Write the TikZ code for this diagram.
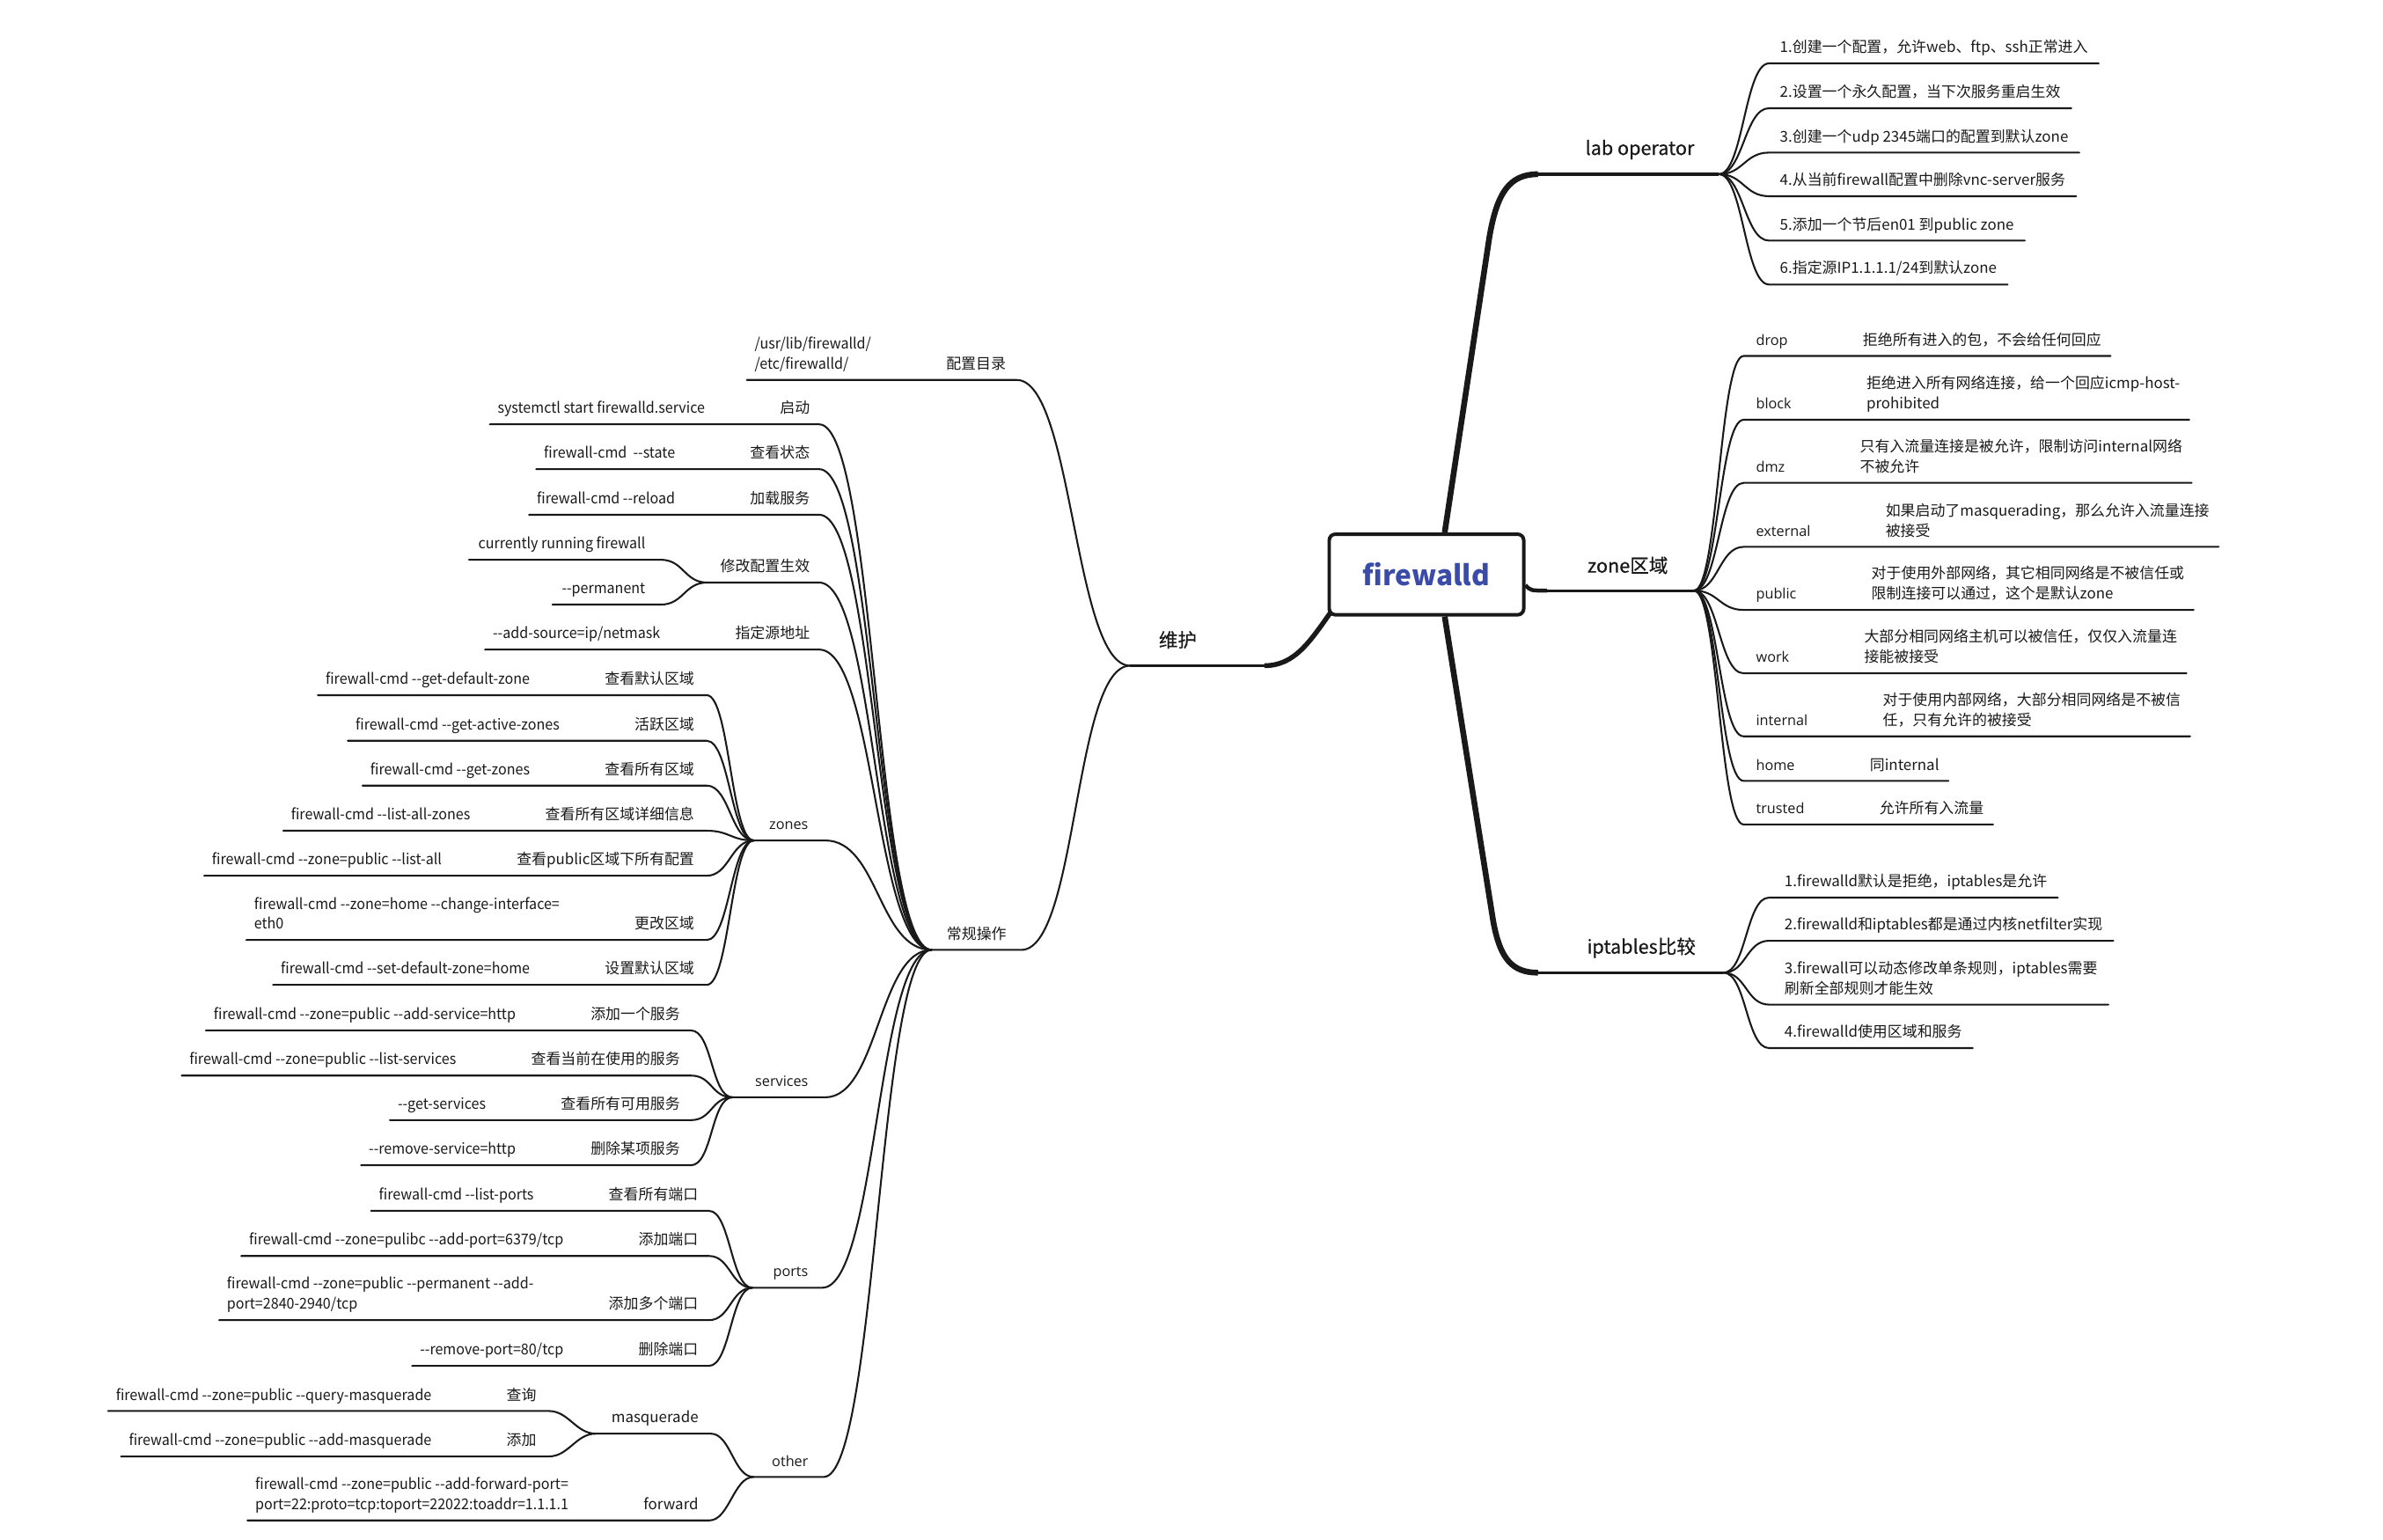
\documentclass[tikz,border=0pt]{standalone}
\usepackage{fontspec}
\setmainfont{Noto Sans CJK SC}[Ligatures=TeXOff]
\newfontfamily\opensans{Open Sans}[Ligatures=TeXOff]
\newfontfamily\cmdfont{Noto Sans CJK SC}[Ligatures=TeXOff, FakeStretch=0.95]
\newfontfamily\headfont{Noto Sans CJK SC}[Ligatures=TeXOff, FakeBold=0.5]
\usetikzlibrary{positioning,calc,backgrounds}
\definecolor{ink}{RGB}{25,25,25}
\definecolor{rootblue}{RGB}{58,75,168}
\tikzset{
  rootbox/.style={draw=ink, line width=2.3pt, rounded corners=4pt, fill=white,
    minimum width=128pt, minimum height=53pt, inner sep=0pt, text=rootblue,
    font=\bfseries\fontsize{18.3}{22}\selectfont},
  trunk/.style={draw=ink, line width=3.8pt},
  stem/.style={draw=ink, line width=1.9pt},
  twig/.style={draw=ink, line width=1.2pt, line cap=round},
  title/.style={font=\headfont\fontsize{12.5}{15}\selectfont, text=ink, inner sep=0pt},
  txt/.style={font=\fontsize{9.8}{13.2}\selectfont, text=ink, inner sep=0pt,
    align=left, execute at end node=\strut},
  cmd/.style={txt, font=\cmdfont\fontsize{9.8}{13.2}\selectfont},
  key/.style={txt, font=\opensans\fontsize{9.4}{13.2}\selectfont},
}

\begin{document}
\begin{tikzpicture}[x=1pt,y=-1pt]
\useasboundingbox (0,0) rectangle (1568,1013);

% centre
\node[rootbox] (root) at (938.6,378) {firewalld};

% junctions of the first level
\coordinate (labc) at (1012,114.6);
\coordinate (labj) at (1131,114.6);
\coordinate (zonec) at (1018,388.6);
\coordinate (zonej) at (1114.6,388.6);
\coordinate (iptc) at (1012,640);
\coordinate (iptj) at (1134,640);
\coordinate (whc) at (832,438);
\coordinate (whj) at (743.6,438);

% thick branches, behind the box
\begin{scope}[on background layer]
  \draw[trunk] ($(root.north)+(12,0)$) -- (980,156) .. controls (985,127) and (993,114.6) .. (labc);
  \draw[trunk, line width=2.6pt] ($(root.east)+(0,7)$) .. controls (1007,388.6) .. (zonec);
  \draw[trunk] ($(root.south)+(12,0)$) -- (982.5,606) .. controls (987,631) and (995,640) .. (iptc);
  \draw[trunk, line width=3.2pt] ($(root.south west)+(3,-4)$) .. controls (862,422) and (852,438) .. (whc);
\end{scope}
\draw[stem] ($(labc)+(-3,0)$) -- (labj);
\draw[stem] ($(zonec)+(-3,0)$) -- (zonej);
\draw[stem] ($(iptc)+(-3,0)$) -- (iptj);
\draw[stem] ($(whc)+(3,0)$) -- (whj);

\node[title] (lab) at (1079,98.4) {lab operator};
\node[title] (zone) at (1071,372) {zone区域};
\node[title] (ipt) at (1080,623.6) {iptables比较};
\node[title] (wh) at (775,421) {维护};

% ---------------- lab operator
\node[txt, anchor=south west] (lab1) at (1171,38.7) {1.创建一个配置，允许web、ftp、ssh正常进入};
\node[txt, anchor=south west] (lab2) at (1171,68.2) {2.设置一个永久配置，当下次服务重启生效};
\node[txt, anchor=south west] (lab3) at (1171,97.4) {3.创建一个udp 2345端口的配置到默认zone};
\node[txt, anchor=south west] (lab4) at (1171,126.1) {4.从当前firewall配置中删除vnc-server服务};
\node[txt, anchor=south west] (lab5) at (1171,155.3) {5.添加一个节后en01 到public zone};
\node[txt, anchor=south west] (lab6) at (1171,184.2) {6.指定源IP1.1.1.1/24到默认zone};
\draw[twig] (labj) .. controls +(16,0) and +(-16,0) .. ($(lab1.south west)+(-7,3)$) -- ($(lab1.south east)+(7,3)$);
\draw[twig] (labj) .. controls +(16,0) and +(-16,0) .. ($(lab2.south west)+(-7,3)$) -- ($(lab2.south east)+(7,3)$);
\draw[twig] (labj) .. controls +(16,0) and +(-16,0) .. ($(lab3.south west)+(-7,3)$) -- ($(lab3.south east)+(7,3)$);
\draw[twig] (labj) .. controls +(16,0) and +(-16,0) .. ($(lab4.south west)+(-7,3)$) -- ($(lab4.south east)+(7,3)$);
\draw[twig] (labj) .. controls +(16,0) and +(-16,0) .. ($(lab5.south west)+(-7,3)$) -- ($(lab5.south east)+(7,3)$);
\draw[twig] (labj) .. controls +(16,0) and +(-16,0) .. ($(lab6.south west)+(-7,3)$) -- ($(lab6.south east)+(7,3)$);

% ---------------- zone
\node[key, anchor=south west] (drop) at (1155.3,231.2) {drop};
\node[txt, right=49pt of drop.south east, anchor=south west] (dropD) {拒绝所有进入的包，不会给任何回应};
\node[key, anchor=south west] (block) at (1155.3,273.2) {block};
\node[txt, right=49pt of block.south east, anchor=south west] (blockD) {拒绝进入所有网络连接，给一个回应icmp-host-\\prohibited};
\node[key, anchor=south west] (dmz) at (1155.3,314.7) {dmz};
\node[txt, right=49pt of dmz.south east, anchor=south west] (dmzD) {只有入流量连接是被允许，限制访问internal网络\\不被允许};
\node[key, anchor=south west] (ext) at (1155.3,356.8) {external};
\node[txt, right=49pt of ext.south east, anchor=south west] (extD) {如果启动了masquerading，那么允许入流量连接\\被接受};
\node[key, anchor=south west] (pub) at (1155.3,398.3) {public};
\node[txt, right=49pt of pub.south east, anchor=south west] (pubD) {对于使用外部网络，其它相同网络是不被信任或\\限制连接可以通过，这个是默认zone};
\node[key, anchor=south west] (work) at (1155.3,440) {work};
\node[txt, right=49pt of work.south east, anchor=south west] (workD) {大部分相同网络主机可以被信任，仅仅入流量连\\接能被接受};
\node[key, anchor=south west] (intl) at (1155.3,481.5) {internal};
\node[txt, right=49pt of intl.south east, anchor=south west] (intlD) {对于使用内部网络，大部分相同网络是不被信\\任，只有允许的被接受};
\node[key, anchor=south west] (home) at (1155.3,510.8) {home};
\node[txt, right=49pt of home.south east, anchor=south west] (homeD) {同internal};
\node[key, anchor=south west] (trust) at (1155.3,539.5) {trusted};
\node[txt, right=49pt of trust.south east, anchor=south west] (trustD) {允许所有入流量};
\draw[twig] (zonej) .. controls +(16,0) and +(-16,0) .. ($(drop.south west)+(-8,3)$) -- ($(dropD.south east)+(6,3)$);
\draw[twig] (zonej) .. controls +(16,0) and +(-16,0) .. ($(block.south west)+(-8,3)$) -- ($(blockD.south east)+(6,3)$);
\draw[twig] (zonej) .. controls +(16,0) and +(-16,0) .. ($(dmz.south west)+(-8,3)$) -- ($(dmzD.south east)+(6,3)$);
\draw[twig] (zonej) .. controls +(16,0) and +(-16,0) .. ($(ext.south west)+(-8,3)$) -- ($(extD.south east)+(6,3)$);
\draw[twig] (zonej) .. controls +(16,0) and +(-16,0) .. ($(pub.south west)+(-8,3)$) -- ($(pubD.south east)+(6,3)$);
\draw[twig] (zonej) .. controls +(16,0) and +(-16,0) .. ($(work.south west)+(-8,3)$) -- ($(workD.south east)+(6,3)$);
\draw[twig] (zonej) .. controls +(16,0) and +(-16,0) .. ($(intl.south west)+(-8,3)$) -- ($(intlD.south east)+(6,3)$);
\draw[twig] (zonej) .. controls +(16,0) and +(-16,0) .. ($(home.south west)+(-8,3)$) -- ($(homeD.south east)+(6,3)$);
\draw[twig] (zonej) .. controls +(16,0) and +(-16,0) .. ($(trust.south west)+(-8,3)$) -- ($(trustD.south east)+(6,3)$);

% ---------------- iptables
\node[txt, anchor=south west] (ipt1) at (1174,587.6) {1.firewalld默认是拒绝，iptables是允许};
\node[txt, anchor=south west] (ipt2) at (1174,616) {2.firewalld和iptables都是通过内核netfilter实现};
\node[txt, anchor=south west] (ipt3) at (1174,658) {3.firewall可以动态修改单条规则，iptables需要\\刷新全部规则才能生效};
\node[txt, anchor=south west] (ipt4) at (1174,686.6) {4.firewalld使用区域和服务};
\draw[twig] (iptj) .. controls +(15,0) and +(-15,0) .. ($(ipt1.south west)+(-10,3)$) -- ($(ipt1.south east)+(7,3)$);
\draw[twig] (iptj) .. controls +(15,0) and +(-15,0) .. ($(ipt2.south west)+(-10,3)$) -- ($(ipt2.south east)+(7,3)$);
\draw[twig] (iptj) .. controls +(15,0) and +(-15,0) .. ($(ipt3.south west)+(-10,3)$) -- ($(ipt3.south east)+(7,3)$);
\draw[twig] (iptj) .. controls +(15,0) and +(-15,0) .. ($(ipt4.south west)+(-10,3)$) -- ($(ipt4.south east)+(7,3)$);

% ---------------- 维护
\node[txt, anchor=south east] (pzml) at (662,247) {配置目录};
\node[cmd, left=49pt of pzml.south west, anchor=south east] (pzmlC) {/usr/lib/firewalld/\\/etc/firewalld/};
\draw[twig] ($(pzmlC.south west)+(-5,3)$) -- ($(pzml.south east)+(7,3)$) .. controls +(37,0) and +(-37,0) .. (whj);

\coordinate (cgj) at (613,625);
\node[txt, anchor=south east] (cgcz) at (662.4,622) {常规操作};
\draw[twig] (cgj) -- ($(cgcz.south east)+(9.6,3)$) .. controls +(37,0) and +(-37,0) .. (whj);

% 常规操作 -> single rows
\node[txt, anchor=south east] (qd) at (533,276.2) {启动};
\node[cmd, left=49pt of qd.south west, anchor=south east] (qdC) {systemctl start firewalld.service};
\node[txt, anchor=south east] (ckzt) at (533,305.7) {查看状态};
\node[cmd, left=49pt of ckzt.south west, anchor=south east] (ckztC) {firewall-cmd\ \ --state};
\node[txt, anchor=south east] (jzfw) at (533,335.7) {加载服务};
\node[cmd, left=49pt of jzfw.south west, anchor=south east] (jzfwC) {firewall-cmd --reload};
\node[txt, anchor=south east] (zdyd) at (533,424.4) {指定源地址};
\node[cmd, left=49pt of zdyd.south west, anchor=south east] (zdydC) {--add-source=ip/netmask};
\draw[twig] ($(qdC.south west)+(-5,3)$) -- ($(qd.south east)+(6,3)$) .. controls +(37,0) and +(-37,0) .. (cgj);
\draw[twig] ($(ckztC.south west)+(-5,3)$) -- ($(ckzt.south east)+(6,3)$) .. controls +(37,0) and +(-37,0) .. (cgj);
\draw[twig] ($(jzfwC.south west)+(-5,3)$) -- ($(jzfw.south east)+(6,3)$) .. controls +(37,0) and +(-37,0) .. (cgj);
\draw[twig] ($(zdydC.south west)+(-5,3)$) -- ($(zdyd.south east)+(6,3)$) .. controls +(37,0) and +(-37,0) .. (cgj);

% 修改配置生效
\node[txt, anchor=south east] (xgpz) at (533,380.3) {修改配置生效};
\coordinate (xgj) at (465.3,383.3);
\draw[twig] (xgj) -- ($(xgpz.south east)+(6,3)$) .. controls +(37,0) and +(-37,0) .. (cgj);
\node[cmd, anchor=south east, xshift=-49pt] (yxfw) at (xgpz.south west |- 0,365.3) {currently running firewall};
\node[cmd, anchor=south east, xshift=-49pt] (perm) at (xgpz.south west |- 0,394.8) {--permanent};
\draw[twig] ($(yxfw.south west)+(-6,3)$) -- ($(yxfw.south east)+(10,3)$) .. controls +(15,0) and +(-15,0) .. (xgj);
\draw[twig] ($(perm.south west)+(-6,3)$) -- ($(perm.south east)+(10,3)$) .. controls +(15,0) and +(-15,0) .. (xgj);

% zones
\node[key, anchor=south east] (zones) at (532,550) {zones};
\coordinate (zonesj) at (496,553);
\draw[twig] (zonesj) -- ($(zones.south east)+(11,3)$) .. controls +(35,0) and +(-35,0) .. (cgj);
\node[txt, anchor=south east, xshift=-49pt] (mrqy) at (zones.south west |- 0,454.4) {查看默认区域};
\node[cmd, left=49pt of mrqy.south west, anchor=south east] (mrqyC) {firewall-cmd --get-default-zone};
\node[txt, anchor=south east, xshift=-49pt] (hyqy) at (zones.south west |- 0,484.4) {活跃区域};
\node[cmd, left=49pt of hyqy.south west, anchor=south east] (hyqyC) {firewall-cmd --get-active-zones};
\node[txt, anchor=south east, xshift=-49pt] (syqy) at (zones.south west |- 0,513.9) {查看所有区域};
\node[cmd, left=49pt of syqy.south west, anchor=south east] (syqyC) {firewall-cmd --get-zones};
\node[txt, anchor=south east, xshift=-49pt] (xxqy) at (zones.south west |- 0,543.6) {查看所有区域详细信息};
\node[cmd, left=49pt of xxqy.south west, anchor=south east] (xxqyC) {firewall-cmd --list-all-zones};
\node[txt, anchor=south east, xshift=-49pt] (pbqy) at (zones.south west |- 0,573.2) {查看public区域下所有配置};
\node[cmd, left=49pt of pbqy.south west, anchor=south east] (pbqyC) {firewall-cmd --zone=public --list-all};
\node[txt, anchor=south east, xshift=-49pt] (ggqy) at (zones.south west |- 0,615.5) {更改区域};
\node[cmd, left=49pt of ggqy.south west, anchor=south east] (ggqyC) {firewall-cmd --zone=home --change-interface=\\eth0};
\node[txt, anchor=south east, xshift=-49pt] (szqy) at (zones.south west |- 0,645) {设置默认区域};
\node[cmd, left=49pt of szqy.south west, anchor=south east] (szqyC) {firewall-cmd --set-default-zone=home};
\draw[twig] ($(mrqyC.south west)+(-5,3)$) -- ($(mrqy.south east)+(8,3)$) .. controls +(15,0) and +(-15,0) .. (zonesj);
\draw[twig] ($(hyqyC.south west)+(-5,3)$) -- ($(hyqy.south east)+(8,3)$) .. controls +(15,0) and +(-15,0) .. (zonesj);
\draw[twig] ($(syqyC.south west)+(-5,3)$) -- ($(syqy.south east)+(8,3)$) .. controls +(15,0) and +(-15,0) .. (zonesj);
\draw[twig] ($(xxqyC.south west)+(-5,3)$) -- ($(xxqy.south east)+(8,3)$) .. controls +(15,0) and +(-15,0) .. (zonesj);
\draw[twig] ($(pbqyC.south west)+(-5,3)$) -- ($(pbqy.south east)+(8,3)$) .. controls +(15,0) and +(-15,0) .. (zonesj);
\draw[twig] ($(ggqyC.south west)+(-5,3)$) -- ($(ggqy.south east)+(8,3)$) .. controls +(15,0) and +(-15,0) .. (zonesj);
\draw[twig] ($(szqyC.south west)+(-5,3)$) -- ($(szqy.south east)+(8,3)$) .. controls +(15,0) and +(-15,0) .. (zonesj);

% services
\node[key, anchor=south east] (svc) at (532,719) {services};
\coordinate (svcj) at (482,722);
\draw[twig] (svcj) -- ($(svc.south east)+(11,3)$) .. controls +(35,0) and +(-35,0) .. (cgj);
\node[txt, anchor=south east, xshift=-49pt] (tjfw) at (svc.south west |- 0,675) {添加一个服务};
\node[cmd, left=49pt of tjfw.south west, anchor=south east] (tjfwC) {firewall-cmd --zone=public --add-service=http};
\node[txt, anchor=south east, xshift=-49pt] (dqfw) at (svc.south west |- 0,704.7) {查看当前在使用的服务};
\node[cmd, left=49pt of dqfw.south west, anchor=south east] (dqfwC) {firewall-cmd --zone=public --list-services};
\node[txt, anchor=south east, xshift=-49pt] (kyfw) at (svc.south west |- 0,734) {查看所有可用服务};
\node[cmd, left=49pt of kyfw.south west, anchor=south east] (kyfwC) {--get-services};
\node[txt, anchor=south east, xshift=-49pt] (scfw) at (svc.south west |- 0,763.7) {删除某项服务};
\node[cmd, left=49pt of scfw.south west, anchor=south east] (scfwC) {--remove-service=http};
\draw[twig] ($(tjfwC.south west)+(-5,3)$) -- ($(tjfw.south east)+(7,3)$) .. controls +(14,0) and +(-14,0) .. (svcj);
\draw[twig] ($(dqfwC.south west)+(-5,3)$) -- ($(dqfw.south east)+(7,3)$) .. controls +(14,0) and +(-14,0) .. (svcj);
\draw[twig] ($(kyfwC.south west)+(-5,3)$) -- ($(kyfw.south east)+(7,3)$) .. controls +(14,0) and +(-14,0) .. (svcj);
\draw[twig] ($(scfwC.south west)+(-5,3)$) -- ($(scfw.south east)+(7,3)$) .. controls +(14,0) and +(-14,0) .. (svcj);

% ports
\node[key, anchor=south east] (ports) at (532,844.3) {ports};
\coordinate (portsj) at (495,847.3);
\draw[twig] (portsj) -- ($(ports.south east)+(9,3)$) .. controls +(36,0) and +(-36,0) .. (cgj);
\node[txt, anchor=south east, xshift=-49pt] (ckdk) at (ports.south west |- 0,793.7) {查看所有端口};
\node[cmd, left=49pt of ckdk.south west, anchor=south east] (ckdkC) {firewall-cmd --list-ports};
\node[txt, anchor=south east, xshift=-49pt] (tjdk) at (ports.south west |- 0,823.4) {添加端口};
\node[cmd, left=49pt of tjdk.south west, anchor=south east] (tjdkC) {firewall-cmd --zone=pulibc --add-port=6379/tcp};
\node[txt, anchor=south east, xshift=-49pt] (dgdk) at (ports.south west |- 0,865.6) {添加多个端口};
\node[cmd, left=49pt of dgdk.south west, anchor=south east] (dgdkC) {firewall-cmd --zone=public --permanent --add-\\port=2840-2940/tcp};
\node[txt, anchor=south east, xshift=-49pt] (scdk) at (ports.south west |- 0,895.7) {删除端口};
\node[cmd, left=49pt of scdk.south west, anchor=south east] (scdkC) {--remove-port=80/tcp};
\draw[twig] ($(ckdkC.south west)+(-5,3)$) -- ($(ckdk.south east)+(7,3)$) .. controls +(14,0) and +(-14,0) .. (portsj);
\draw[twig] ($(tjdkC.south west)+(-5,3)$) -- ($(tjdk.south east)+(7,3)$) .. controls +(14,0) and +(-14,0) .. (portsj);
\draw[twig] ($(dgdkC.south west)+(-5,3)$) -- ($(dgdk.south east)+(7,3)$) .. controls +(14,0) and +(-14,0) .. (portsj);
\draw[twig] ($(scdkC.south west)+(-5,3)$) -- ($(scdk.south east)+(7,3)$) .. controls +(14,0) and +(-14,0) .. (portsj);

% other
\node[key, anchor=south east] (other) at (532,968.8) {other};
\coordinate (otherj) at (495.8,971.8);
\draw[twig] (otherj) -- ($(other.south east)+(10,3)$) .. controls +(35,0) and +(-35,0) .. (cgj);
\node[txt, anchor=south east, xshift=-48pt] (masq) at (other.south west |- 0,940.3) {masquerade};
\coordinate (masqj) at (392,943.3);
\draw[twig] (masqj) -- ($(masq.south east)+(8,3)$) .. controls +(13,0) and +(-13,0) .. (otherj);
\node[txt, anchor=south east, xshift=-49pt] (cx) at (masq.south west |- 0,925.4) {查询};
\node[cmd, left=49pt of cx.south west, anchor=south east] (cxC) {firewall-cmd --zone=public --query-masquerade};
\node[txt, anchor=south east, xshift=-49pt] (tj) at (masq.south west |- 0,955.3) {添加};
\node[cmd, left=49pt of tj.south west, anchor=south east] (tjC) {firewall-cmd --zone=public --add-masquerade};
\draw[twig] ($(cxC.south west)+(-5,3)$) -- ($(cx.south east)+(8,3)$) .. controls +(13,0) and +(-13,0) .. (masqj);
\draw[twig] ($(tjC.south west)+(-5,3)$) -- ($(tj.south east)+(8,3)$) .. controls +(13,0) and +(-13,0) .. (masqj);
\node[txt, anchor=south east, xshift=-48pt] (fwd) at (other.south west |- 0,997.4) {forward};
\node[cmd, left=49pt of fwd.south west, anchor=south east] (fwdC) {firewall-cmd --zone=public --add-forward-port=\\port=22:proto=tcp:toport=22022:toaddr=1.1.1.1};
\draw[twig] ($(fwdC.south west)+(-5,3)$) -- ($(fwd.south east)+(7,3)$) .. controls +(13,0) and +(-13,0) .. (otherj);
\end{tikzpicture}
\end{document}
